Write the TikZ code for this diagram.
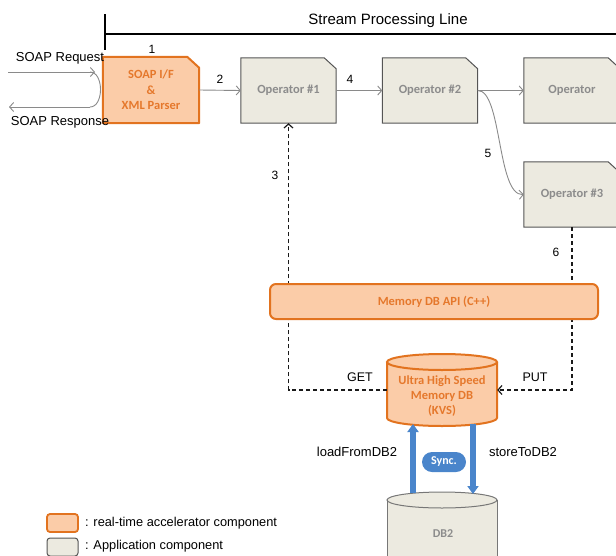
\documentclass[tikz,border=0pt]{standalone}
\usepackage{fontspec}
\setmainfont{Liberation Sans}
\newfontfamily\calfont{Carlito}
\usetikzlibrary{arrows.meta,calc}
\pgfdeclarelayer{bg}
\pgfsetlayers{bg,main}
\definecolor{orfill}{HTML}{FBCCA8}
\definecolor{ordraw}{HTML}{E2731F}
\definecolor{ortext}{HTML}{E5782C}
\definecolor{apfill}{HTML}{ECEAE0}
\definecolor{apdraw}{HTML}{555555}
\definecolor{aptext}{HTML}{8C8C8C}
\definecolor{conncol}{HTML}{8A8A8A}
\definecolor{dk}{HTML}{1A1A1A}
\definecolor{syncblue}{HTML}{4A85CB}
\tikzset{
  boxtext/.style={font=\calfont\bfseries\fontsize{12.5}{15.5}\selectfont, align=center, inner sep=0pt},
  optext/.style={boxtext, text=aptext},
  acctext/.style={boxtext, text=ortext},
  accshape/.style={fill=orfill, draw=ordraw, line width=2pt, line join=round},
  appshape/.style={fill=apfill, draw=apdraw, line width=1pt},
  conn/.style={draw=conncol, line width=0.9pt, -{Straight Barb[length=4pt,width=9pt]}},
  plainconn/.style={draw=conncol, line width=0.9pt},
  dconn/.style={draw=dk, line width=1.2pt, dash pattern=on 4pt off 3pt, -{Straight Barb[length=4pt,width=9pt]}},
  num/.style={font=\fontsize{12}{14}\selectfont, inner sep=0pt},
  lbl/.style={font=\fontsize{13}{15}\selectfont, inner sep=0pt},
  syncarrow/.style={draw=syncblue, line width=5.5pt, -{Triangle[length=8pt,width=11pt]}},
}
\newcommand\cutbox[8]{%
  \node[#7, minimum width=#4pt, minimum height=#5pt] (#1) at (#2,#3) {#8};
  \begin{pgfonlayer}{bg}
  \draw[#6] (#1.south west) -- (#1.north west) -- ([xshift=-12pt]#1.north east) -- ([yshift=-11pt]#1.north east) -- (#1.south east) -- cycle;
  \end{pgfonlayer}}
\begin{document}
\begin{tikzpicture}[x=1pt,y=-1pt]
\useasboundingbox (0,0) rectangle (616,555);
% stream processing line
\coordinate (splA) at (105,14);
\coordinate (splB) at (105,50);
\coordinate (splC) at (105,34);
\coordinate (splD) at (616,34);
\draw[line width=1.2pt] (splA) -- (splB);
\draw[line width=1.2pt] (splC) -- (splD);
\node[font=\fontsize{15}{17}\selectfont, inner sep=0pt] (spltext) at (388,21) {Stream Processing Line};

% boxes
\cutbox{soap}{151}{90}{96}{66}{accshape}{acctext}{SOAP I/F\\\&\\XML Parser}
\cutbox{op1}{288.5}{90.5}{95}{65}{appshape}{optext}{Operator \#1}
\cutbox{op2}{430}{90.5}{95}{65}{appshape}{optext}{Operator \#2}
\cutbox{op4}{572}{90.5}{96}{65}{appshape}{optext}{Operator}
\cutbox{op3}{572}{194.5}{96}{65}{appshape}{optext}{Operator \#3}

% SOAP request/response
\coordinate (reqS) at (8,72);
\coordinate (reqE) at (95,72);
\coordinate (bendA) at (90,72);
\coordinate (bendB) at (90,107);
\coordinate (resE) at (9,107);
\draw[conn] (reqS) -- (reqE);
\draw[plainconn] (bendA) .. controls (104,72) and (104,107) .. (bendB);
\draw[conn] (bendB) -- (resE);
\node[lbl] (reqtext) at (60,58) {SOAP Request};
\node[lbl] (restext) at (60,122) {SOAP Response};
\node[num] (n1) at (152,49) {1};

% flow arrows
\draw[conn] (soap.east) -- (op1.west);
\node[num] (n2) at (220,79) {2};
\draw[conn] (op1.east) -- (op2.west);
\node[num] (n4) at (350,79) {4};
\draw[conn] (op2.east) -- (op4.west);
\draw[conn] (op2.east) .. controls (502,90) and (497,196) .. (op3.west);
\node[num] (n5) at (488,153) {5};

% memory DB cylinder
\fill[orfill] (387,362) -- (387,418) arc[start angle=180,end angle=0,x radius=55,y radius=8] -- (497,362) -- cycle;
\fill[orfill] (442,362) ellipse[x radius=55,y radius=8];
\draw[ordraw,line width=2pt] (387,362) -- (387,418) arc[start angle=180,end angle=0,x radius=55,y radius=8] -- (497,362);
\draw[ordraw,line width=2pt] (442,362) ellipse[x radius=55,y radius=8];
\node[minimum width=110pt, minimum height=72pt, inner sep=0pt] (kvs) at (442,390) {};
\node[acctext, font=\calfont\bfseries\fontsize{12.5}{15}\selectfont] (kvstext) at (442,396) {Ultra High Speed\\Memory DB\\(KVS)};

% DB2 cylinder
\fill[apfill] (387,500) rectangle (497,580);
\fill[apfill] (442,500) ellipse[x radius=55,y radius=8];
\draw[draw=apdraw!80, line width=1pt] (387,500) -- (387,580);
\draw[draw=apdraw!80, line width=1pt] (497,500) -- (497,580);
\draw[draw=apdraw!80, line width=1pt] (442,500) ellipse[x radius=55,y radius=8];
\node[minimum width=110pt, minimum height=80pt, inner sep=0pt] (db2) at (442,532) {};
\node[optext, font=\calfont\bfseries\fontsize{12}{14}\selectfont] (db2text) at (443,534) {DB2};

% dashed GET / PUT
\draw[dconn] (kvs.west) -| (op1.south);
\node[num] (n3) at (275,175) {3};
\draw[dconn] (op3.south) |- (kvs.east);
\node[num] (n6) at (556,252) {6};
\node[num, font=\fontsize{12.5}{14}\selectfont] (get) at (360,377) {GET};
\node[num, font=\fontsize{12.5}{14}\selectfont] (put) at (535,377) {PUT};

% API bar
\node[fill=orfill, draw=ordraw, line width=2pt, rounded corners=6pt, minimum width=328pt, minimum height=35pt, acctext] (api) at (434,301.5) {Memory DB API (C++)};

% sync arrows
\coordinate (ldS) at (413,493);
\coordinate (ldE) at (413,424);
\coordinate (stS) at (473,424);
\coordinate (stE) at (473,494);
\draw[syncarrow] (ldS) -- (ldE);
\draw[syncarrow] (stS) -- (stE);
\node[fill=syncblue, rounded corners=10pt, minimum width=44pt, minimum height=20pt, inner sep=0pt, text=white, font=\calfont\bfseries\fontsize{12}{14}\selectfont] (sync) at (444,462) {Sync.};
\node[lbl] (load) at (357,452) {loadFromDB2};
\node[lbl] (store) at (523,452) {storeToDB2};

% legend
\node[fill=orfill, draw=ordraw, line width=1.8pt, rounded corners=3pt, minimum width=31pt, minimum height=18pt, inner sep=0pt] (legacc) at (62.5,523) {};
\node[fill=apfill, draw=apdraw, line width=1pt, rounded corners=3pt, minimum width=31pt, minimum height=18pt, inner sep=0pt] (legapp) at (62.5,547) {};
\node[anchor=west, inner sep=0pt, font=\fontsize{12.8}{14}\selectfont] (legacctext) at (85,523) {: real-time accelerator component};
\node[anchor=west, inner sep=0pt, font=\fontsize{12.8}{14}\selectfont] (legapptext) at (85,546) {: Application component};
\end{tikzpicture}
\end{document}
